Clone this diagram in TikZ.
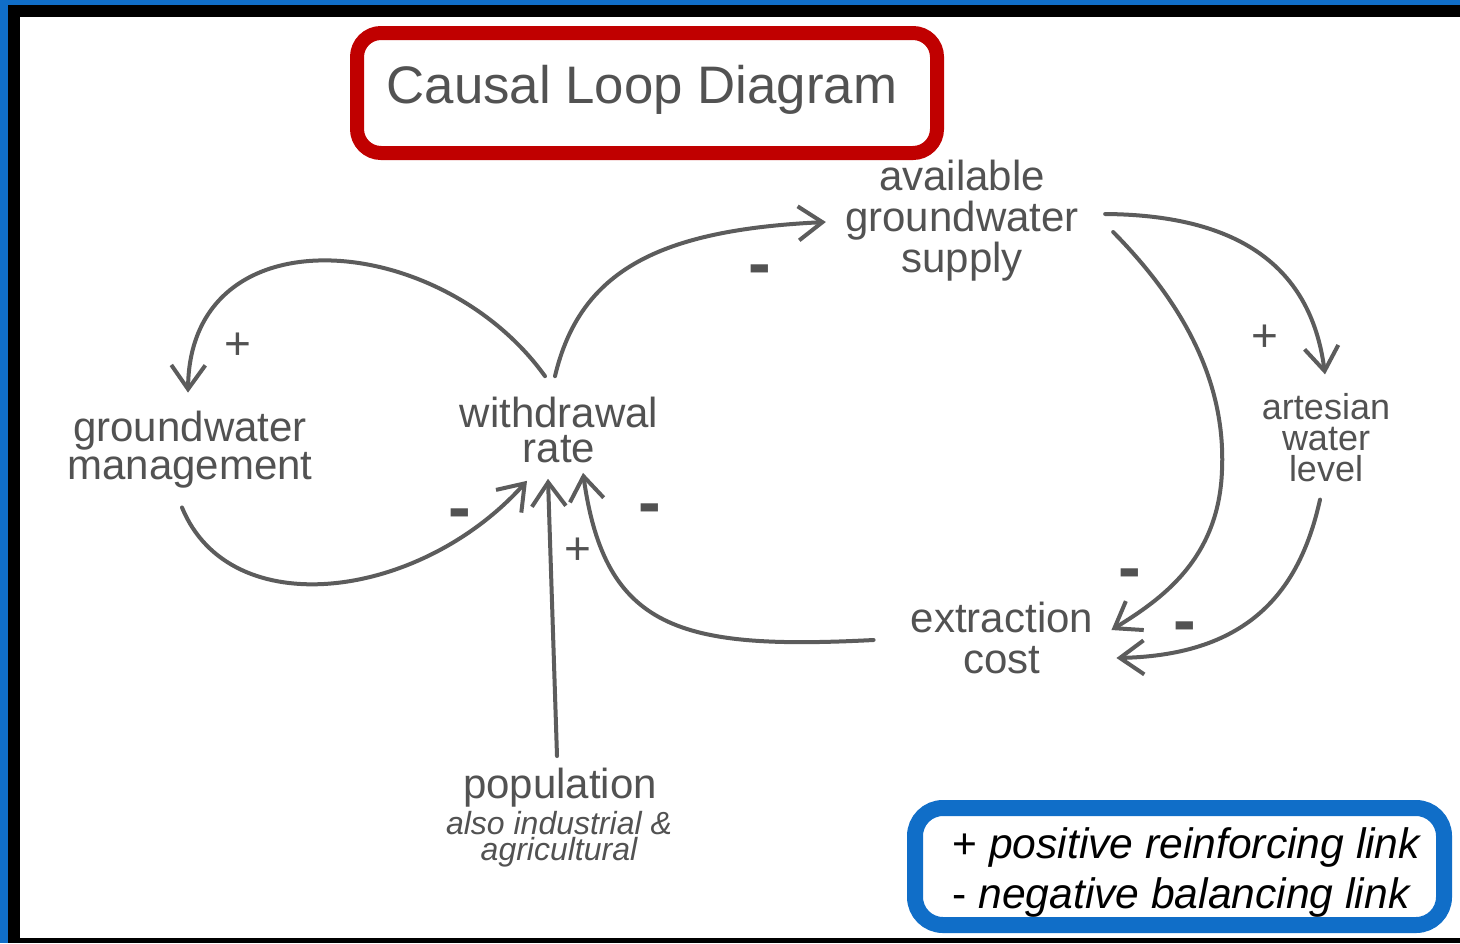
\documentclass[tikz,border=0pt]{standalone}
\usepackage{fontspec}
\setmainfont{Liberation Sans}
\usetikzlibrary{arrows.meta}
\definecolor{frameblue}{RGB}{16,110,200}
\definecolor{titlered}{RGB}{192,0,0}
\definecolor{inkgray}{RGB}{82,82,82}
\definecolor{linegray}{RGB}{92,92,92}
\begin{document}
\begin{tikzpicture}[x=0.5pt,y=-0.5pt,
  var/.style={inner sep=0pt, align=center, text=inkgray, font=\fontsize{21}{17.5}\selectfont},
  link/.style={draw=linegray, line width=2pt, line cap=round,
    -{Straight Barb[length=12pt,width=17pt]}},
  plus/.style={inner sep=0pt, text=inkgray, font=\fontsize{23}{23}\selectfont},
  minus/.style={inner sep=0pt, text=inkgray, font=\bfseries\fontsize{34}{34}\selectfont},
  legend/.style={inner sep=0pt, anchor=base west, text=black, font=\fontsize{21.3}{25}\selectfont},
]
\useasboundingbox (0,0) rectangle (1460,943);

% frame
\fill[frameblue] (0,0) rectangle (1460,943);
\fill[black] (8,5) rectangle (1460,943);
\fill[white] (20,17) rectangle (1460,938);

% title box
\draw[titlered, line width=7pt, rounded corners=12pt] (357,33) rectangle (937,153);
\node[inner sep=0pt, anchor=base, text=inkgray, font=\fontsize{26.4}{30}\selectfont] (title) at (642,103) {Causal Loop Diagram};

% variables
\node[var, font=\fontsize{21}{20.5}\selectfont] (ags) at (962,220.5) {available\\groundwater\\supply};
\node[var] (wr) at (559,429.5) {withdrawal\\rate};
\node[var, font=\fontsize{21}{17}\selectfont] (gm) at (190,449.5) {groundwater\\management};
\node[var, font=\fontsize{18}{15.5}\selectfont] (awl) at (1326,438) {artesian\\water\\level};
\node[var, font=\fontsize{21}{20.5}\selectfont] (ec) at (1002,638) {extraction\\cost};
\node[var] (pop) at (560,788) {population};
\node[var, font=\itshape\fontsize{16}{11.5}\selectfont] (popnote) at (559,839) {also industrial \&\\agricultural};

% causal links
\draw[link] ([shift={(-14,-20)}]wr.north) .. controls (440,230) and (190,210) .. ([shift={(-2,-18)}]gm.north);
\draw[link] ([shift={(-8,19)}]gm.south) .. controls (230,625) and (420,600) .. ([shift={(-32,18)}]wr.south);
\draw[link] ([shift={(-4,-20)}]wr.north) .. controls (580,270) and (660,230) .. ([shift={(-19,1.5)}]ags.west);
\draw[link] ([shift={(26,-6.5)}]ags.east) .. controls (1230,215) and (1310,260) .. ([shift={(-1,-19)}]awl.north);
\draw[link] ([shift={(34,11.5)}]ags.east) .. controls (1200,320) and (1225,400) .. (1222,470)
  .. controls (1219,560) and (1160,600) .. ([shift={(18,-8)}]ec.east);
\draw[link] ([shift={(-6,17)}]awl.south) .. controls (1300,590) and (1250,655) .. ([shift={(23,20)}]ec.east);
\draw[link] ([shift={(-37,2)}]ec.west) .. controls (680,650) and (605,630) .. ([shift={(24,10)}]wr.south);
\draw[link] ([shift={(-3,-12)}]pop.north) -- ([shift={(-11,16)}]wr.south);

% link polarities
\node[plus] (p1) at (238,346) {+};
\node[minus] (m1) at (460,520) {-};
\node[minus] (m2) at (760,276) {-};
\node[plus] (p2) at (578,551) {+};
\node[minus] (m3) at (650,515) {-};
\node[plus] (p3) at (1265,338) {+};
\node[minus] (m4) at (1130,580) {-};
\node[minus] (m5) at (1185,633) {-};

% legend
\draw[frameblue, line width=8pt, rounded corners=14pt] (915,808) rectangle (1444,925);
\node[legend] (lgp) at (952,858) {+ \textit{positive reinforcing link}};
\node[legend] (lgn) at (952,908) {- \textit{negative balancing link}};
\end{tikzpicture}
\end{document}
